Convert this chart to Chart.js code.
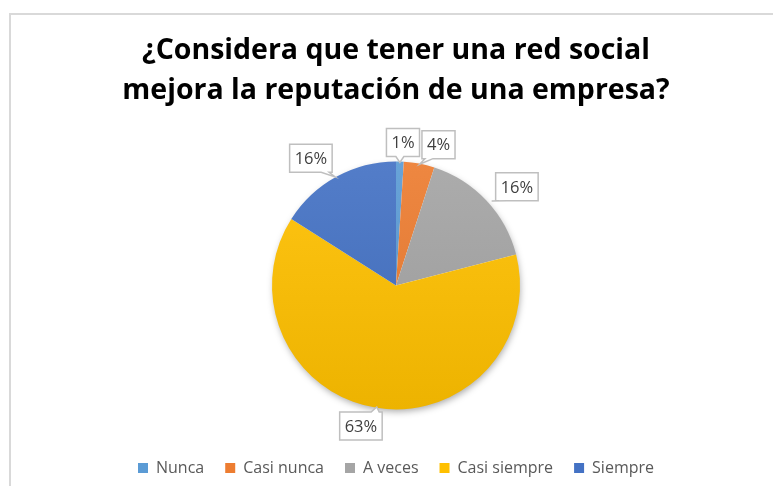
<!DOCTYPE html>
<html>
<head>
<meta charset="utf-8">
<script src="https://cdn.jsdelivr.net/npm/chart.js@4"></script>
<style>
  html, body { margin: 0; padding: 0; background: #fff; }
  #wrap { width: 773px; height: 486px; }
</style>
</head>
<body>
<div id="wrap"><canvas id="pieChart" width="773" height="486"></canvas></div>
<script>
const categories = ['Nunca', 'Casi nunca', 'A veces', 'Casi siempre', 'Siempre'];
const shares = [1, 4, 16, 63, 16];
const sliceColors = ['#5B9BD5', '#ED7D31', '#A5A5A5', '#FFC000', '#4472C4'];
const titleLines = ['¿Considera que tener una red social', 'mejora la reputación de una empresa?'];

// callout placement: [angle shift in degrees, distance past the pie edge]
const calloutNudge = [[1, 19], [6, 23], [4, 32], [5, 21], [-5, 29]];

const FONT = "'Open Sans', Lato, sans-serif";

function shade(hex, amt) {
  const n = parseInt(hex.slice(1), 16);
  const f = c => Math.max(0, Math.min(255, Math.round(c + (amt > 0 ? (255 - c) * amt : c * amt))));
  return `rgb(${f(n >> 16)},${f((n >> 8) & 255)},${f(n & 255)})`;
}

// light grey frame along the top and left edge
const framePlugin = {
  id: 'frame',
  beforeDraw(chart) {
    const ctx = chart.ctx;
    ctx.save();
    ctx.fillStyle = '#fff';
    ctx.fillRect(0, 0, chart.width, chart.height);
    ctx.strokeStyle = '#d9d9d9';
    ctx.lineWidth = 2;
    ctx.beginPath();
    ctx.moveTo(10, chart.height);
    ctx.lineTo(10, 14);
    ctx.lineTo(chart.width, 14);
    ctx.stroke();
    ctx.restore();
  }
};

// soft drop shadow under the whole pie
const shadowPlugin = {
  id: 'pieShadow',
  beforeDatasetsDraw(chart) {
    const arc = chart.getDatasetMeta(0).data[0];
    if (!arc) return;
    const { x, y, outerRadius } = arc.getProps(['x', 'y', 'outerRadius'], true);
    const ctx = chart.ctx;
    ctx.save();
    ctx.shadowColor = 'rgba(0,0,0,0.35)';
    ctx.shadowBlur = 7;
    ctx.shadowOffsetY = 3;
    ctx.shadowOffsetX = 1;
    ctx.fillStyle = '#fff';
    ctx.beginPath();
    ctx.arc(x, y, outerRadius - 1, 0, Math.PI * 2);
    ctx.fill();
    ctx.restore();
  }
};

// percentage callouts with a small pointer toward each slice
const calloutPlugin = {
  id: 'callouts',
  afterDatasetsDraw(chart) {
    const ctx = chart.ctx;
    const meta = chart.getDatasetMeta(0);
    ctx.save();
    ctx.font = `16.5px ${FONT}`;
    meta.data.forEach((arc, i) => {
      const { x, y, startAngle, endAngle, outerRadius } =
        arc.getProps(['x', 'y', 'startAngle', 'endAngle', 'outerRadius'], true);
      const mid = (startAngle + endAngle) / 2;
      const [shift, dist] = calloutNudge[i];
      const a = mid + shift * Math.PI / 180;
      const cx = x + Math.cos(a) * (outerRadius + dist);
      const cy = y + Math.sin(a) * (outerRadius + dist);
      const ax = x + Math.cos(mid) * (outerRadius - 1);
      const ay = y + Math.sin(mid) * (outerRadius - 1);

      const text = shares[i] + '%';
      const w = ctx.measureText(text).width + 10;
      const h = 28;
      const l = cx - w / 2, r = cx + w / 2, t = cy - h / 2, b = cy + h / 2;

      let side;
      if (ay > b) side = 'bottom';
      else if (ay < t) side = 'top';
      else side = ax < l ? 'left' : 'right';

      const clamp = (v, lo, hi) => Math.max(lo, Math.min(hi, v));
      let bx, by;
      if (side === 'top' || side === 'bottom') {
        bx = clamp(ax, l + 7, r - 7); by = side === 'top' ? t : b;
      } else {
        by = clamp(ay, t + 7, b - 7); bx = side === 'left' ? l : r;
      }
      let dx = ax - bx, dy = ay - by;
      const d = Math.hypot(dx, dy) || 1;
      const len = Math.min(d, 11);
      const tx = bx + dx / d * len, ty = by + dy / d * len;

      const pts = [];
      pts.push([l, t]);
      if (side === 'top') pts.push([bx - 4, t], [tx, ty], [bx + 4, t]);
      pts.push([r, t]);
      if (side === 'right') pts.push([r, by - 4], [tx, ty], [r, by + 4]);
      pts.push([r, b]);
      if (side === 'bottom') pts.push([bx + 4, b], [tx, ty], [bx - 4, b]);
      pts.push([l, b]);
      if (side === 'left') pts.push([l, by + 4], [tx, ty], [l, by - 4]);

      ctx.beginPath();
      pts.forEach(([px, py], k) => k ? ctx.lineTo(px, py) : ctx.moveTo(px, py));
      ctx.closePath();
      ctx.fillStyle = '#fff';
      ctx.fill();
      ctx.strokeStyle = '#bfbfbf';
      ctx.lineWidth = 1.5;
      ctx.stroke();

      ctx.fillStyle = '#404040';
      ctx.textAlign = 'center';
      ctx.textBaseline = 'middle';
      ctx.fillText(text, cx, cy + 1);
    });
    ctx.restore();
  }
};

function sliceFill(context) {
  const chart = context.chart;
  const area = chart.chartArea;
  const base = sliceColors[context.dataIndex];
  if (!area) return base;
  const cy = (area.top + area.bottom) / 2;
  const g = chart.ctx.createLinearGradient(0, cy - 124, 0, cy + 124);
  g.addColorStop(0, shade(base, 0.08));
  g.addColorStop(1, shade(base, -0.07));
  return g;
}

new Chart(document.getElementById('pieChart'), {
  type: 'pie',
  data: {
    labels: categories,
    datasets: [{
      data: shares,
      backgroundColor: sliceFill,
      borderWidth: 0,
      radius: 124
    }]
  },
  options: {
    responsive: false,
    animation: false,
    layout: { padding: { left: 29, right: 10, top: 0, bottom: 0 } },
    plugins: {
      title: {
        display: true,
        text: titleLines,
        color: '#000',
        font: { family: FONT, size: 28.5, weight: 'bold', lineHeight: 1.4 },
        padding: { top: 31, bottom: 21 }
      },
      legend: {
        position: 'bottom',
        labels: {
          color: '#595959',
          font: { family: FONT, size: 16 },
          boxWidth: 10,
          boxHeight: 10,
          padding: 21,
          generateLabels(chart) {
            return categories.map((c, i) => ({
              text: c,
              fillStyle: sliceColors[i],
              strokeStyle: sliceColors[i],
              lineWidth: 0,
              fontColor: '#595959',
              index: i
            }));
          }
        }
      },
      tooltip: { enabled: false }
    }
  },
  plugins: [framePlugin, shadowPlugin, calloutPlugin]
});
</script>
</body>
</html>
